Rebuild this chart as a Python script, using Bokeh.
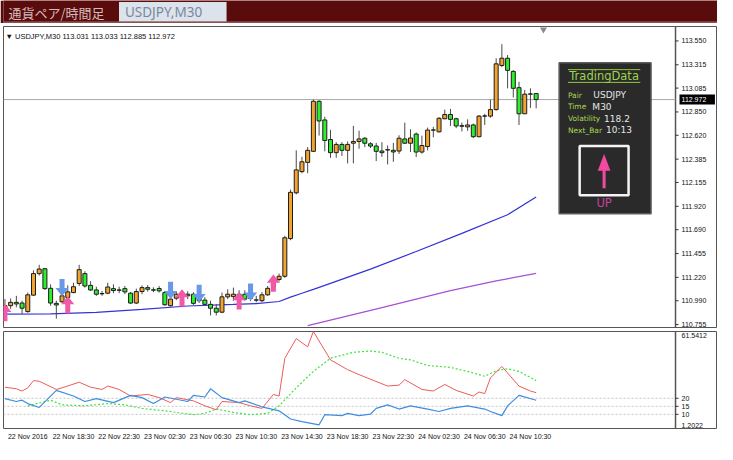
from bokeh.plotting import figure
from bokeh.layouts import column
from bokeh.models import Range1d, FixedTicker, ColumnDataSource
from bokeh.core.properties import value
from bokeh.embed import file_html
from bokeh.resources import INLINE

# ---------------- data ----------------
opens = [110.893, 110.941, 110.974, 110.967, 110.883, 111.045, 111.257, 111.305, 111.112, 110.964,
         110.980, 111.022, 111.070, 111.160, 111.257, 111.141, 111.096, 111.061, 111.064, 111.109,
         111.096, 111.109, 111.064, 110.967, 111.080, 111.119, 111.097, 111.110, 111.070, 110.941,
         111.015, 111.052, 111.054, 111.054, 111.015, 110.996, 110.954, 110.916, 110.877, 111.028,
         111.030, 111.054, 111.054, 111.016, 110.998, 110.990, 111.048, 111.119, 111.199, 111.231,
         111.602, 112.053, 112.262, 112.353, 112.462, 112.955, 112.771, 112.578, 112.449, 112.530,
         112.472, 112.542, 112.559, 112.591, 112.536, 112.514, 112.465, 112.478, 112.472, 112.465,
         112.584, 112.542, 112.632, 112.455, 112.509, 112.671, 112.654, 112.783, 112.825, 112.783,
         112.715, 112.703, 112.722, 112.606, 112.809, 112.809, 112.873, 113.308, 113.379, 113.250,
         113.089, 112.832, 113.025, 113.031]
highs = [111.006, 111.012, 111.038, 110.990, 111.070, 111.289, 111.344, 111.312, 111.151, 110.990,
         111.054, 111.141, 111.167, 111.344, 111.280, 111.183, 111.128, 111.086, 111.167, 111.151,
         111.128, 111.135, 111.077, 111.109, 111.141, 111.144, 111.122, 111.135, 111.086, 111.028,
         111.083, 111.093, 111.083, 111.074, 111.045, 111.025, 110.990, 110.958, 111.070, 111.103,
         111.119, 111.093, 111.093, 111.054, 111.038, 111.074, 111.135, 111.222, 111.257, 111.630,
         112.085, 112.472, 112.408, 112.504, 112.971, 112.965, 112.803, 112.674, 112.552, 112.552,
         112.559, 112.713, 112.665, 112.600, 112.552, 112.545, 112.552, 112.520, 112.545, 112.620,
         112.745, 112.680, 112.648, 112.616, 112.696, 112.703, 112.799, 112.873, 112.880, 112.793,
         112.745, 112.777, 112.735, 112.819, 112.832, 112.970, 113.379, 113.518, 113.411, 113.262,
         113.147, 113.067, 113.083, 113.033]
lows = [110.877, 110.909, 110.925, 110.861, 110.871, 111.038, 111.238, 111.096, 110.941, 110.813,
        110.967, 111.012, 111.064, 111.135, 111.119, 111.086, 111.038, 111.038, 111.054, 111.064,
        111.064, 111.054, 110.958, 110.958, 111.054, 111.080, 111.074, 111.070, 110.941, 110.932,
        110.996, 111.025, 111.006, 110.948, 110.968, 110.948, 110.845, 110.845, 110.868, 111.006,
        110.990, 110.996, 110.990, 110.986, 110.974, 110.977, 111.038, 111.103, 111.180, 111.215,
        111.586, 112.038, 112.246, 112.246, 112.456, 112.617, 112.462, 112.398, 112.398, 112.417,
        112.343, 112.343, 112.487, 112.504, 112.494, 112.366, 112.408, 112.333, 112.359, 112.436,
        112.535, 112.455, 112.406, 112.439, 112.471, 112.600, 112.648, 112.777, 112.712, 112.690,
        112.658, 112.664, 112.593, 112.600, 112.722, 112.793, 112.864, 113.292, 113.083, 112.993,
        112.722, 112.832, 112.890, 112.885]
closes = [110.941, 110.974, 110.958, 110.916, 111.048, 111.257, 111.302, 111.109, 110.967, 110.948,
          111.038, 111.077, 111.128, 111.296, 111.135, 111.096, 111.054, 111.058, 111.125, 111.090,
          111.093, 111.077, 110.967, 111.080, 111.119, 111.103, 111.094, 111.087, 110.950, 111.006,
          111.054, 111.056, 111.038, 110.964, 110.990, 110.954, 110.916, 110.877, 111.028, 111.054,
          111.054, 111.015, 111.006, 111.013, 110.996, 111.048, 111.112, 111.199, 111.231, 111.610,
          112.058, 112.279, 112.359, 112.472, 112.955, 112.761, 112.569, 112.449, 112.530, 112.472,
          112.530, 112.559, 112.584, 112.542, 112.514, 112.462, 112.449, 112.475, 112.456, 112.591,
          112.542, 112.593, 112.455, 112.519, 112.671, 112.673, 112.787, 112.825, 112.777, 112.712,
          112.709, 112.722, 112.606, 112.809, 112.811, 112.873, 113.324, 113.379, 113.260, 113.083,
          112.832, 113.025, 113.028, 112.972]

ma_fast_bars = [0, 8, 16, 24, 32, 40, 44, 48, 50, 52, 54, 56, 64, 72, 80, 88, 93]
ma_fast_vals = [110.857, 110.861, 110.876, 110.905, 110.938, 110.953, 110.962, 110.982, 111.025,
                111.064, 111.102, 111.141, 111.301, 111.475, 111.653, 111.837, 112.011]
ma_slow_bars = [53, 55, 66, 78, 86, 93]
ma_slow_vals = [110.745, 110.771, 110.922, 111.090, 111.185, 111.260]

up_arrow_bars = [0, 11, 31, 41, 47]
up_arrow_tips = [110.958, 111.035, 111.103, 111.074, 111.248]
down_arrow_bars = [10, 29, 34, 43]
down_arrow_tips = [111.035, 111.006, 110.977, 110.990]

price_ticks = [110.755, 110.990, 111.220, 111.455, 111.690, 111.920, 112.155,
               112.385, 112.620, 112.850, 113.085, 113.315, 113.550]

red_bars = [0, 2, 3, 4, 5, 6, 9, 10, 13, 15, 17, 18, 20, 22, 25, 27, 29, 30, 33, 35, 37, 38, 41,
            43, 45, 47, 48, 49, 51, 53, 54, 57, 60, 62, 67, 69, 70, 73, 75, 77, 79, 82, 83, 84,
            85, 87, 88, 90, 92, 93]
red_vals = [26.9, 25.9, 24.5, 26.5, 31.0, 30.6, 25.5, 26.5, 30.0, 26.9, 25.5, 27.6, 25.5, 21.4,
            22.4, 20.4, 17.3, 20.4, 18.4, 15.3, 12.9, 18.0, 17.3, 15.3, 13.7, 22.4, 21.4, 44.9,
            57.1, 52.0, 61.5412, 43.9, 37.8, 34.7, 27.6, 28.2, 31.6, 25.5, 24.5, 28.6, 24.9, 21.4,
            23.9, 22.9, 32.7, 39.8, 35.7, 27.6, 24.5, 23.5]
blue_bars = [0, 2, 3, 4, 6, 9, 12, 14, 16, 19, 22, 24, 26, 28, 32, 33, 35, 36, 38, 41, 42, 45,
             48, 50, 52, 55, 56, 59, 60, 62, 64, 65, 67, 69, 71, 74, 76, 78, 81, 84, 85, 87, 88,
             90, 93]
blue_vals = [19.8, 18.0, 18.8, 16.7, 14.3, 24.9, 21.4, 18.0, 19.8, 17.3, 21.8, 20.4, 16.7, 20.8,
             18.0, 21.8, 20.8, 25.9, 20.4, 17.3, 18.4, 14.7, 12.2, 7.1, 5.5, 3.5, 9.8, 9.2, 10.6,
             9.2, 10.2, 13.7, 15.9, 13.3, 15.3, 13.3, 11.8, 13.7, 15.3, 13.3, 11.8, 9.2, 15.3,
             21.8, 18.8]
green_bars = [4, 8, 10, 14, 18, 21, 24, 28, 33, 35, 37, 40, 43, 46, 48, 51, 54, 57, 61, 64, 66,
              69, 71, 74, 78, 81, 84, 86, 88, 90, 93]
green_vals = [15.3, 18.8, 15.9, 15.3, 16.7, 15.9, 13.7, 12.2, 9.8, 10.6, 13.3, 11.2, 9.8, 10.6,
              15.3, 26.5, 36.7, 44.9, 48.6, 49.4, 48.6, 44.9, 43.9, 40.4, 39.2, 36.7, 33.7, 37.1,
              38.4, 36.7, 31.0]
ind_levels = [10, 15, 20]
ind_min, ind_max = 1.2022, 61.5412
ind_min_label, ind_max_label = "1.2022", "61.5412"

time_label_bars = [0, 8, 16, 24, 32, 40, 48, 56, 64, 72, 80, 88]
time_labels = ["22 Nov 2016", "22 Nov 18:30", "22 Nov 22:30", "23 Nov 02:30", "23 Nov 06:30",
               "23 Nov 10:30", "23 Nov 14:30", "23 Nov 18:30", "23 Nov 22:30", "24 Nov 02:30",
               "24 Nov 06:30", "24 Nov 10:30"]

panel_labels = ["Pair", "Time", "Volatility", "Next_Bar"]
panel_values = ["USDJPY", "M30", "118.2", "10:13"]

# --------------- helpers (reference pixel -> data, for decorations only) ---------------
def bx(px):
    return (px - 5.4) / 5.84

def py(pix):
    return 113.550 - (pix - 41.7) / 103.5

AX_FONT = value("Liberation Sans")
UP_COL, DN_COL = "#f3a42e", "#2cf02c"
FRAME_COL = "#555555"

X0 = -0.25           # left edge of the plotting area (bars)
AXIS_X = 117.4       # right edge of the plotting area = price-scale line (bars)
PX_PER_BAR = 714 / 125.0
xr = Range1d(X0, 124.75)
TICK_LEN = 3 / PX_PER_BAR
LABEL_DX = 6 / PX_PER_BAR

# --------------- header ---------------
hdr = figure(width=717, height=23, x_range=Range1d(0, 717), y_range=Range1d(23, 0),
             toolbar_location=None, output_backend="svg", x_axis_location=None,
             y_axis_location=None, min_border=0, title=None)
hdr.background_fill_color = "#5a0b0b"
hdr.border_fill_color = "#5a0b0b"
hdr.outline_line_color = None
hdr.grid.visible = False
hdr.quad(left=[116], right=[224], top=[1.5], bottom=[21], fill_color="#dce3eb", line_color=None)
hdr.segment(x0=[0], x1=[717], y0=[21.6], y1=[21.6], line_color="#c9a0a0", line_width=0.8)
hdr.text(x=[5], y=[11.5], text=["通貨ペア/時間足"], text_font=value("Noto Sans CJK JP"),
         text_font_size="13px", text_color="#d4bcbc", text_baseline="middle")
hdr.text(x=[122], y=[11.5], text=["USDJPY,M30"], text_font=value("Noto Sans"),
         text_font_size="13.5px", text_color="#7888a0", text_baseline="middle")

# --------------- main price chart ---------------
PY0, PY1 = 110.726, 113.692
p = figure(width=717, height=305, x_range=xr, y_range=Range1d(PY0, PY1),
           toolbar_location=None, output_backend="svg", x_axis_location=None,
           y_axis_location=None, min_border_left=3, min_border_right=0,
           min_border_top=3, min_border_bottom=1, title=None)
p.grid.visible = False
p.outline_line_color = FRAME_COL
p.background_fill_color = "white"

# price scale (drawn from the tick list through the y scale)
p.segment(x0=[AXIS_X], x1=[AXIS_X], y0=[PY0], y1=[PY1], line_color=FRAME_COL, line_width=1.5)
p.segment(x0=[AXIS_X] * len(price_ticks), x1=[AXIS_X + TICK_LEN] * len(price_ticks),
          y0=price_ticks, y1=price_ticks, line_color="#333333", line_width=1)
p.text(x=[AXIS_X + LABEL_DX] * len(price_ticks), y=price_ticks,
       text=["%.3f" % t for t in price_ticks], text_font=AX_FONT, text_font_size="7px",
       text_color="#111111", text_baseline="middle")

# last price line
p.segment(x0=[X0], x1=[AXIS_X], y0=[closes[-1]], y1=[closes[-1]], line_color="#a8a8a8", line_width=1)

# moving averages
p.line(ma_slow_bars, ma_slow_vals, line_color="#a650d2", line_width=1.2)
p.line(ma_fast_bars, ma_fast_vals, line_color="#3333d6", line_width=1.2)

# candles
idx = list(range(len(opens)))
src = ColumnDataSource(dict(
    x=idx, h=highs, l=lows,
    top=[max(o, c) for o, c in zip(opens, closes)],
    bottom=[min(o, c) for o, c in zip(opens, closes)],
    color=[UP_COL if c >= o else DN_COL for o, c in zip(opens, closes)],
))
p.segment(x0="x", y0="h", x1="x", y1="l", line_color="#4a4a4a", line_width=1, source=src)
p.vbar(x="x", width=0.7, top="top", bottom="bottom", fill_color="color", line_color="#1c1c1c",
       line_width=1, source=src)

# signal arrows
HW, SW, HH, L = 1.15, 0.44, 0.08, 0.17

def arrow(b, tip, d):
    # d = -1: body below tip (up arrow); d = +1: body above tip (down arrow)
    xs = [b, b + HW, b + SW, b + SW, b - SW, b - SW, b - HW]
    ys = [tip, tip + d * HH, tip + d * HH, tip + d * L, tip + d * L, tip + d * HH, tip + d * HH]
    return xs, ys

dx, dy = zip(*[arrow(b, t, 1) for b, t in zip(down_arrow_bars, down_arrow_tips)])
p.patches(list(dx), list(dy), fill_color="#6a98e8", line_color=None)
ux, uy = zip(*[arrow(b, t, -1) for b, t in zip(up_arrow_bars, up_arrow_tips)])
p.patches(list(ux), list(uy), fill_color="#f25aa8", line_color=None)

# chart title
title_txt = "▼ USDJPY,M30  %.3f %.3f %.3f %.3f" % (opens[-1], highs[-1], lows[-1], closes[-1])
p.text(x=[bx(6)], y=[py(37.5)], text=[title_txt], text_font=AX_FONT, text_font_size="7.5px",
       text_color="#111111", text_baseline="middle")
# chart shift marker
p.scatter(x=[bx(556)], y=[py(30)], marker="inverted_triangle", size=7, fill_color="#8a8a8a",
          line_color=None)

# info panel
p.quad(left=[bx(572)], right=[bx(666)], top=[py(64)], bottom=[py(218)], fill_color="#2a2a2a",
       line_color="#5c5c5c", line_width=1.5)
p.segment(x0=[bx(581), bx(581)], x1=[bx(655), bx(655)], y0=[py(71), py(84)], y1=[py(71), py(84)],
          line_color="#92c83e", line_width=1)
p.text(x=[bx(618)], y=[py(77.5)], text=["TradingData"], text_font=value("DejaVu Sans"),
       text_font_size="11.5px", text_color="#9fd34a", text_align="center", text_baseline="middle")
row_y = [py(97), py(109), py(121), py(133)]
p.text(x=[bx(581)] * 4, y=row_y, text=panel_labels, text_font=value("DejaVu Sans"),
       text_font_size="7.5px", text_color="#a8d84e", text_baseline="middle")
p.text(x=[bx(607), bx(606), bx(618), bx(620)], y=row_y, text=panel_values,
       text_font=value("DejaVu Sans"), text_font_size="9px", text_color="#e6e6e6",
       text_baseline="middle")
p.quad(left=[bx(593)], right=[bx(643)], top=[py(149)], bottom=[py(199)], fill_color="#2a2a2a",
       line_color="#f4f4f4", line_width=2.5)
p.segment(x0=[bx(618)], x1=[bx(618)], y0=[py(168)], y1=[py(192)], line_color="#f24aa0", line_width=3)
p.patch(x=[bx(618), bx(611.5), bx(624.5)], y=[py(157), py(174), py(174)], fill_color="#f24aa0",
        line_color=None)
p.text(x=[bx(618)], y=[py(207)], text=["UP"], text_font=value("DejaVu Sans"),
       text_font_size="11.5px", text_color="#c4449a", text_align="center", text_baseline="middle")

# current price tag on the price scale
TAG_H = 5 / 101.5
p.quad(left=[AXIS_X + 0.7], right=[AXIS_X + 6.9], top=[closes[-1] + TAG_H],
       bottom=[closes[-1] - TAG_H], fill_color="black", line_color=None)
p.text(x=[AXIS_X + LABEL_DX], y=[closes[-1]], text=["%.3f" % closes[-1]], text_font=AX_FONT,
       text_font_size="7px", text_color="white", text_baseline="middle")

# --------------- indicator panel ---------------
ind = figure(width=717, height=116, x_range=xr, y_range=Range1d(ind_min, ind_max),
             toolbar_location=None, output_backend="svg", y_axis_location=None,
             min_border_left=3, min_border_right=0, min_border_top=3, min_border_bottom=16,
             title=None)
ind.grid.visible = False
ind.outline_line_color = FRAME_COL
ind.segment(x0=[X0] * len(ind_levels), x1=[AXIS_X] * len(ind_levels), y0=ind_levels,
            y1=ind_levels, line_color="#c4c4c4", line_dash="2 2", line_width=1)
ind.line(green_bars, green_vals, line_color="#3fe33f", line_dash="2 2", line_width=1.2)
ind.line(red_bars, red_vals, line_color="#ec5b5b", line_width=1)
ind.line(blue_bars, blue_vals, line_color="#3f8de0", line_width=1.2)

# indicator scale (MT4 style: min/max labels kept inside the window)
ind.segment(x0=[AXIS_X], x1=[AXIS_X], y0=[ind_min], y1=[ind_max], line_color=FRAME_COL, line_width=1.5)
ind.segment(x0=[AXIS_X] * len(ind_levels), x1=[AXIS_X + TICK_LEN] * len(ind_levels),
            y0=ind_levels, y1=ind_levels, line_color="#333333", line_width=1)
ind.text(x=[AXIS_X + LABEL_DX] * len(ind_levels), y=ind_levels, text=[str(v) for v in ind_levels],
         text_font=AX_FONT, text_font_size="7px", text_color="#111111", text_baseline="middle")
ind.text(x=[AXIS_X + LABEL_DX], y=[ind_max], text=[ind_max_label], text_font=AX_FONT,
         text_font_size="7px", text_color="#111111", text_baseline="top", y_offset=1)
ind.text(x=[AXIS_X + LABEL_DX], y=[ind_min], text=[ind_min_label], text_font=AX_FONT,
         text_font_size="7px", text_color="#111111", text_baseline="bottom", y_offset=-1)

LABEL_SHIFT = 4  # labels start at their bar, MT4 style
ix = ind.xaxis[0]
ix.ticker = FixedTicker(ticks=[b + LABEL_SHIFT for b in time_label_bars])
ix.major_label_overrides = {b + LABEL_SHIFT: s for b, s in zip(time_label_bars, time_labels)}
ix.axis_line_color = None
ix.major_tick_out = 0
ix.major_tick_in = 0
ix.minor_tick_line_color = None
ix.major_label_standoff = 4
ix.major_label_text_font = "Liberation Sans"
ix.major_label_text_font_size = "7px"
ix.major_label_text_color = "#111111"

layout = column(hdr, p, ind, spacing=0)
open("out.html", "w").write(file_html(layout, INLINE))
